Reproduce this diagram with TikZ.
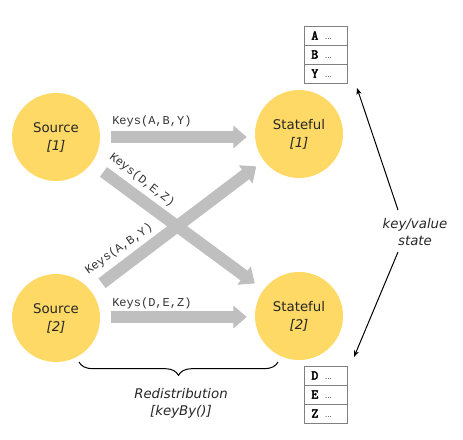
\documentclass[tikz,border=0pt]{standalone}
\usepackage{fontspec}
\setmainfont{DejaVu Sans}
\setmonofont{Liberation Mono}
\newfontfamily\cellfont[AutoFakeBold=3]{Latin Modern Mono}
\usetikzlibrary{arrows.meta,decorations.pathreplacing,calc}
\definecolor{circ}{HTML}{FFD966}
\definecolor{flow}{HTML}{BFBFBF}
\definecolor{cellgray}{HTML}{808080}
\begin{document}
\begin{tikzpicture}[x=0.75pt,y=-0.75pt,
  opnode/.style={circle,fill=circ,minimum size=66pt,inner sep=0pt,align=center,text=black!85,font=\fontsize{10}{13.5}\selectfont},
  flowarrow/.style={draw=flow,line width=9pt,-{Triangle[width=16.5pt,length=10pt]}},
  keylabel/.style={font=\fontsize{9}{10}\selectfont\ttfamily,inner sep=0pt,text=black!80},
  cell/.style={draw=cellgray,line width=0.7pt,minimum width=32.25pt,minimum height=14.25pt,inner sep=0pt,inner xsep=5.5pt,text width=21.25pt,align=left,font=\fontsize{9}{10}\selectfont},
  note/.style={align=center,inner sep=0pt,text=black!85,font=\fontsize{10}{12.75}\selectfont\itshape},
  pointer/.style={draw=black,line width=0.75pt,-{Stealth[length=5pt,width=4pt]}}
]
\useasboundingbox (0,0) rectangle (463,439);

% operator circles
\node[opnode] (s1) at (56,137) {Source\\\textit{[1]}};
\node[opnode] (s2) at (56,318) {Source\\\textit{[2]}};
\node[opnode] (t1) at (299,134) {Stateful\\\textit{[1]}};
\node[opnode] (t2) at (299,316) {Stateful\\\textit{[2]}};

% flow arrows
\draw[flowarrow] ($(s1.east)+(11,0)$) -- ($(t1.west)+(-8,3)$);
\draw[flowarrow] ($(s2.east)+(11,-1)$) -- ($(t2.west)+(-8,1)$);
\draw[flowarrow, shorten <=11pt, shorten >=8pt] (s1) -- (t2);
\draw[flowarrow, shorten <=10pt, shorten >=7pt] (s2) -- (t1);

% key labels
\node[keylabel,anchor=west] (k1) at (112,121) {Keys(A,B,Y)};
\node[keylabel,anchor=west] (k2) at (112,303) {Keys(D,E,Z)};
\node[keylabel,rotate=-38] (k3) at (142,180) {Keys(D,E,Z)};
\node[keylabel,rotate=35] (k4) at (119,249) {Keys(A,B,Y)};

% state tables
\node[cell] (a1) at (325.5,35.5) {{\cellfont\bfseries\fontsize{10}{10}\selectfont A}\hspace{5pt}{\tiny\ldots}};
\node[cell] (a2) at (325.5,54.5) {{\cellfont\bfseries\fontsize{10}{10}\selectfont B}\hspace{5pt}{\tiny\ldots}};
\node[cell] (a3) at (325.5,73.5) {{\cellfont\bfseries\fontsize{10}{10}\selectfont Y}\hspace{5pt}{\tiny\ldots}};
\node[cell] (b1) at (325.5,375.5) {{\cellfont\bfseries\fontsize{10}{10}\selectfont D}\hspace{5pt}{\tiny\ldots}};
\node[cell] (b2) at (325.5,394.5) {{\cellfont\bfseries\fontsize{10}{10}\selectfont E}\hspace{5pt}{\tiny\ldots}};
\node[cell] (b3) at (325.5,413.5) {{\cellfont\bfseries\fontsize{10}{10}\selectfont Z}\hspace{5pt}{\tiny\ldots}};

% key/value state
\node[note] (kv) at (415,232) {key/value\\state};
\coordinate (p1s) at (398,210);
\coordinate (p1e) at (357,88);
\coordinate (p2s) at (398,252);
\coordinate (p2e) at (354,357);
\draw[pointer] (p1s) -- (p1e);
\draw[pointer] (p2s) -- (p2e);

% redistribution brace
\coordinate (br1) at (79,362);
\coordinate (br2) at (278,362);
\draw[line width=0.75pt,decorate,decoration={brace,mirror,amplitude=10pt}] (br1) -- (br2);
\node[note] (rd) at (181,403) {Redistribution\\{[keyBy()]}};
\end{tikzpicture}
\end{document}
